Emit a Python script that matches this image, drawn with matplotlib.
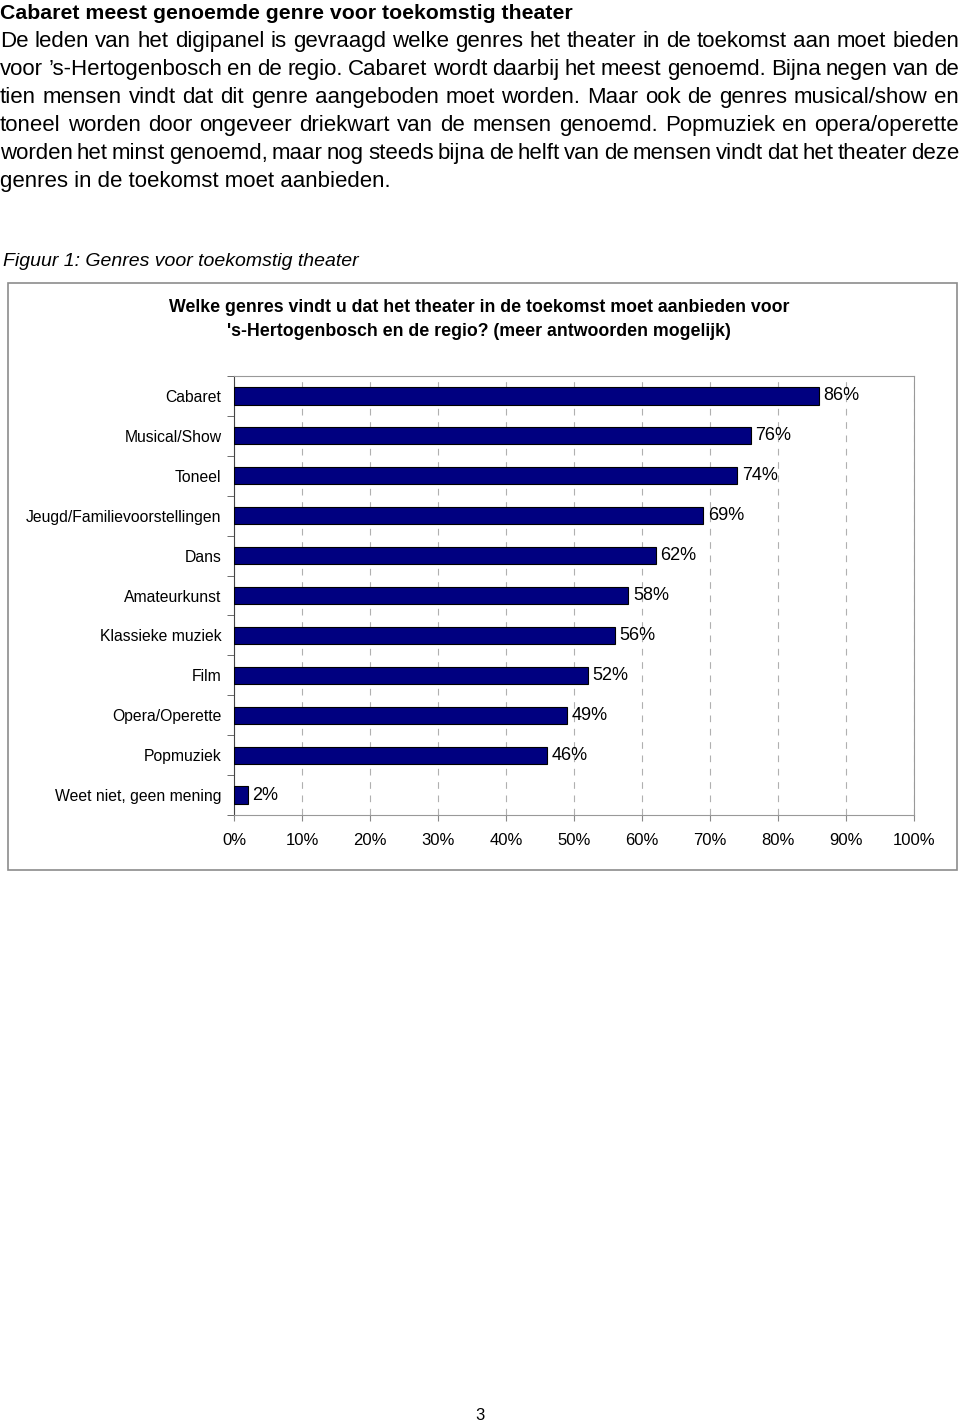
import numpy as np
import matplotlib.pyplot as plt
from matplotlib.patches import Rectangle
from matplotlib.ticker import FixedLocator, PercentFormatter

#data#
genres = ["Cabaret", "Musical/Show", "Toneel", "Jeugd/Familievoorstellingen", "Dans",
          "Amateurkunst", "Klassieke muziek", "Film", "Opera/Operette", "Popmuziek",
          "Weet niet, geen mening"]
pct = [86, 76, 74, 69, 62, 58, 56, 52, 49, 46, 2]
xticks = [0, 10, 20, 30, 40, 50, 60, 70, 80, 90, 100]

heading = "Cabaret meest genoemde genre voor toekomstig theater"
para = ["De leden van het digipanel is gevraagd welke genres het theater in de toekomst aan moet bieden",
        "voor \u2019s-Hertogenbosch en de regio. Cabaret wordt daarbij het meest genoemd. Bijna negen van de",
        "tien mensen vindt dat dit genre aangeboden moet worden. Maar ook de genres musical/show en",
        "toneel worden door ongeveer driekwart van de mensen genoemd. Popmuziek en opera/operette",
        "worden het minst genoemd, maar nog steeds bijna de helft van de mensen vindt dat het theater deze",
        "genres in de toekomst moet aanbieden."]
fig_caption = "Figuur 1: Genres voor toekomstig theater"
chart_title = ["Welke genres vindt u dat het theater in de toekomst moet aanbieden voor",
               "'s-Hertogenbosch en de regio? (meer antwoorden mogelijk)"]

W, H = 960, 1426
body = ["Liberation Sans", "DejaVu Sans"]
narrow = ["Liberation Sans Narrow", "Liberation Sans", "DejaVu Sans"]

fig = plt.figure(figsize=(W/100, H/100), dpi=100)

def fy(y):
    return 1 - y/H

def fx(x):
    return x/W

#page text#
fig.text(fx(0), fy(19), heading, fontsize=15.3, fontweight="bold", family=body, va="baseline", ha="left")

renderer = fig.canvas.get_renderer()
for i, line in enumerate(para):
    y = fy(47 + 28*i)
    words = line.split(" ")
    if i == len(para) - 1:
        fig.text(fx(0), y, line, fontsize=16, family=body, va="baseline", ha="left")
        continue
    objs = [fig.text(0, y, w, fontsize=16, family=body, va="baseline", ha="left") for w in words]
    widths = [o.get_window_extent(renderer).width for o in objs]
    gap = (959 - sum(widths)) / (len(words) - 1)
    x = 0
    for o, w in zip(objs, widths):
        o.set_x(fx(x))
        x += w + gap

fig.text(fx(3), fy(262), fig_caption, fontsize=14, style="italic", family=body, va="center", ha="left")
fig.text(0.5, fy(1415), "3", fontsize=12, family=body, va="center", ha="center")

#outer box#
fig.patches.append(Rectangle((fx(8), fy(870)), fx(957-8), (870-283)/H, transform=fig.transFigure,
                             fill=False, edgecolor="#8c8c8c", lw=1.2))

fig.text(fx(479), fy(307), chart_title[0], fontsize=12.8, fontweight="bold", family=body, va="center", ha="center")
fig.text(fx(479), fy(331), chart_title[1], fontsize=12.8, fontweight="bold", family=body, va="center", ha="center")

#bar chart#
ax = fig.add_axes([fx(234), fy(815), fx(914-234), (815-376)/H])
y = np.arange(len(genres))
ax.barh(y, pct, height=0.43, color="#000080", edgecolor="#000000", lw=0.8, zorder=3)
for yi, v in zip(y, pct):
    ax.text(v + 0.7, yi, f"{v}%", va="center", ha="left", fontsize=13, family=narrow)

ax.set_xlim(0, 100)
ax.set_ylim(len(genres) - 0.5, -0.5)
ax.set_xticks(xticks)
ax.xaxis.set_major_formatter(PercentFormatter(decimals=0))
ax.set_yticks(y)
ax.set_yticklabels(genres)
ax.yaxis.set_minor_locator(FixedLocator(np.arange(-0.5, len(genres), 1)))
ax.tick_params(axis="y", which="major", length=0, pad=9, labelsize=11.3)
ax.tick_params(axis="y", which="minor", length=5, color="#555555")
ax.tick_params(axis="x", length=4, color="#888888", pad=9, labelsize=12)
for lab in ax.get_xticklabels() + ax.get_yticklabels():
    lab.set_family(narrow)

ax.xaxis.grid(True, linestyle=(0, (6, 6)), color="#b0b0b0", lw=0.8, zorder=0)
ax.spines["left"].set_color("#444444")
for s in ["top", "right", "bottom"]:
    ax.spines[s].set_color("#999999")

plt.savefig("out.png", dpi=100)
